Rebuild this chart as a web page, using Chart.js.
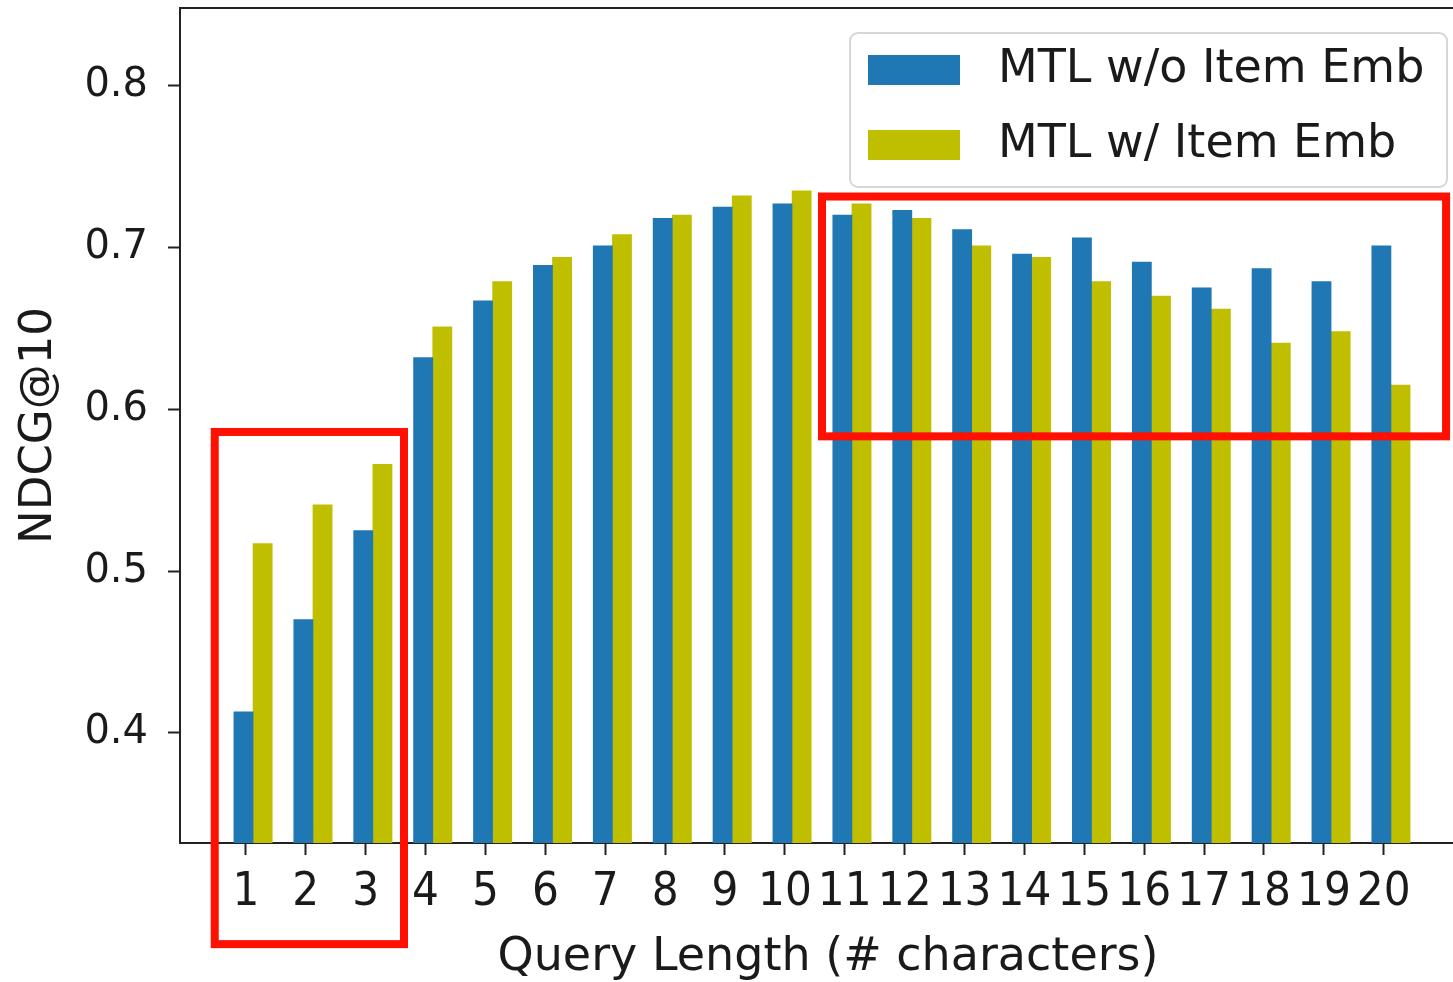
<!DOCTYPE html>
<html>
<head>
<meta charset="utf-8">
<script src="https://cdn.jsdelivr.net/npm/chart.js@4.4.1/dist/chart.umd.min.js"></script>
<style>
  html, body { margin: 0; padding: 0; background: #fff; overflow: hidden; }
  #wrap { width: 1476px; height: 982px; position: relative; }
</style>
</head>
<body>
<div id="wrap"><canvas id="ndcgChart"></canvas></div>
<script>
// query length in characters
const queryLengths = [1, 2, 3, 4, 5, 6, 7, 8, 9, 10, 11, 12, 13, 14, 15, 16, 17, 18, 19, 20];

const ndcgWithoutItemEmb = [
  0.413, 0.470, 0.525, 0.632, 0.667, 0.689, 0.701, 0.718, 0.725, 0.727,
  0.720, 0.723, 0.711, 0.696, 0.706, 0.691, 0.675, 0.687, 0.679, 0.701,
];
const ndcgWithItemEmb = [
  0.517, 0.541, 0.566, 0.651, 0.679, 0.694, 0.708, 0.720, 0.732, 0.735,
  0.727, 0.718, 0.701, 0.694, 0.679, 0.670, 0.662, 0.641, 0.648, 0.615,
];

const yTickValues = [0.4, 0.5, 0.6, 0.7, 0.8];

// red highlight boxes, in data units (x = query length, y = NDCG)
const highlightBoxes = [
  { x0: 0.48, x1: 3.64, y0: 0.586, y1: 0.2695 },
  { x0: 10.62, x1: 21.04, y0: 0.7315, y1: 0.5833 },
];

const FONT = "DejaVu Sans";
const NARROW = "'DejaVu Sans Condensed', 'DejaVu Sans'";
const TEXT = "#1a1a1a";
const BLUE = "#1f77b4";
const OLIVE = "#bfbf00";

const topBorder = {
  id: "topBorder",
  afterDatasetsDraw(chart) {
    const { ctx, chartArea } = chart;
    ctx.save();
    ctx.strokeStyle = "#222";
    ctx.lineWidth = 2;
    ctx.beginPath();
    ctx.moveTo(chartArea.left, chartArea.top);
    ctx.lineTo(chartArea.right, chartArea.top);
    ctx.stroke();
    ctx.restore();
  },
};

const boxLegend = {
  id: "boxLegend",
  afterDraw(chart) {
    const { ctx, chartArea } = chart;
    const w = 597, h = 154;
    const x = chartArea.right - 29 - w;
    const y = chartArea.top + 25;
    ctx.save();
    ctx.beginPath();
    ctx.roundRect(x, y, w, h, 8);
    ctx.fillStyle = "rgba(255,255,255,0.8)";
    ctx.fill();
    ctx.strokeStyle = "#d6d6d6";
    ctx.lineWidth = 2;
    ctx.stroke();
    ctx.font = "46px '" + FONT + "'";
    ctx.textBaseline = "middle";
    chart.data.datasets.forEach((ds, i) => {
      const rowY = y + 37 + i * 75;
      ctx.fillStyle = ds.backgroundColor;
      ctx.fillRect(x + 18, rowY - 15, 92, 30);
      ctx.fillStyle = TEXT;
      ctx.fillText(ds.label, x + 148, rowY);
    });
    ctx.restore();
  },
};

const highlights = {
  id: "highlights",
  afterDraw(chart) {
    const { ctx } = chart;
    const xs = chart.scales.x, ys = chart.scales.y;
    ctx.save();
    ctx.strokeStyle = "#ff1000";
    ctx.lineWidth = 8;
    highlightBoxes.forEach(b => {
      const l = xs.getPixelForValue(b.x0), r = xs.getPixelForValue(b.x1);
      const t = ys.getPixelForValue(b.y0), btm = ys.getPixelForValue(b.y1);
      ctx.strokeRect(l, t, r - l, btm - t);
    });
    ctx.restore();
  },
};

const ctx = document.getElementById("ndcgChart").getContext("2d");

new Chart(ctx, {
  type: "bar",
  data: {
    datasets: [
      {
        label: "MTL w/o Item Emb",
        data: queryLengths.map((q, i) => ({ x: q - 0.04, y: ndcgWithoutItemEmb[i] })),
        backgroundColor: BLUE,
      },
      {
        label: "MTL w/ Item Emb",
        data: queryLengths.map((q, i) => ({ x: q + 0.28, y: ndcgWithItemEmb[i] })),
        backgroundColor: OLIVE,
      },
    ],
  },
  options: {
    responsive: true,
    maintainAspectRatio: false,
    animation: false,
    layout: { padding: { top: 8, right: 0, left: 0, bottom: 0 } },
    datasets: {
      bar: {
        grouped: false,
        barPercentage: 1,
        categoryPercentage: 1,
        borderWidth: 0,
      },
    },
    scales: {
      x: {
        type: "linear",
        offset: false,
        min: -0.1,
        max: 21.54,
        afterBuildTicks: s => { s.ticks = queryLengths.map(v => ({ value: v })); },
        afterFit: s => { s.height = 139; s.paddingLeft = 0; s.paddingRight = 0; },
        grid: { offset: false, drawOnChartArea: false, drawTicks: true, tickLength: 12, tickColor: "#222", tickWidth: 2 },
        border: { display: true, color: "#222", width: 2 },
        ticks: {
          autoSkip: false,
          maxRotation: 0,
          padding: 10,
          color: TEXT,
          font: { family: NARROW, size: 47 },
          callback: v => String(v),
        },
        title: {
          display: true,
          text: "Query Length (# characters)",
          color: TEXT,
          font: { family: FONT, size: 46, lineHeight: 1 },
          padding: { top: 0, bottom: 1 },
        },
      },
      y: {
        type: "linear",
        min: 0.332,
        max: 0.848,
        afterBuildTicks: s => { s.ticks = yTickValues.map(v => ({ value: v })); },
        afterFit: s => { s.width = 180; s.paddingTop = 0; s.paddingBottom = 0; },
        grid: { drawOnChartArea: false, drawTicks: true, tickLength: 12, tickColor: "#222", tickWidth: 2 },
        border: { display: true, color: "#222", width: 2 },
        ticks: {
          padding: 20,
          color: TEXT,
          font: { family: FONT, size: 40 },
          callback: v => v.toFixed(1),
        },
        title: {
          display: true,
          text: "NDCG@10",
          color: TEXT,
          font: { family: FONT, size: 45, lineHeight: 1 },
          padding: { top: 17, bottom: 0 },
        },
      },
    },
    plugins: {
      legend: { display: false },
      tooltip: { enabled: false },
    },
  },
  plugins: [topBorder, boxLegend, highlights],
});
</script>
</body>
</html>
